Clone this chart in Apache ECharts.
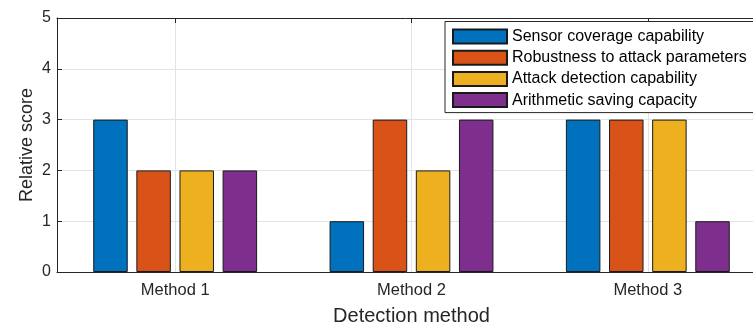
<!DOCTYPE html>
<html><head><meta charset="utf-8">
<script src="https://cdn.jsdelivr.net/npm/echarts@6/dist/echarts.min.js"></script>
<style>html,body{margin:0;padding:0;background:#fff}#c{width:753px;height:323px}</style>
</head><body><div id="c"></div>
<script>
const categories = ['Method 1', 'Method 2', 'Method 3'];
const seriesNames = ['Sensor coverage capability', 'Robustness to attack parameters', 'Attack detection capability', 'Arithmetic saving capacity'];
const sensorCoverage = [3, 1, 3];
const robustness = [2, 3, 3];
const attackDetection = [2, 2, 3];
const arithmeticSaving = [2, 3, 1];
const yTicks = [0, 1, 2, 3, 4, 5];
const colors = ['#0072BD', '#D95319', '#EDB120', '#7E2F8E'];
const values = [sensorCoverage, robustness, attackDetection, arithmeticSaving];

const font = '"Liberation Sans", Arial, Helvetica, sans-serif';
const chart = echarts.init(document.getElementById('c'), null, {renderer: 'canvas'});
chart.setOption({
  animation: false,
  backgroundColor: '#fff',
  grid: {left: 57, top: 18, width: 709, bottom: 51, containLabel: false, outerBoundsMode: 'none'},
  legend: {
    orient: 'vertical', left: 445, top: 21.5,
    icon: 'rect',
    itemWidth: 54, itemHeight: 14, itemGap: 5.2,
    padding: [7, 20, 4.5, 7],
    backgroundColor: '#fff', borderColor: '#262626', borderWidth: 1,
    textStyle: {fontFamily: font, fontSize: 16, color: '#000'},
    data: seriesNames
  },
  xAxis: [{
    type: 'category', data: categories, position: 'bottom',
    name: 'Detection method', nameLocation: 'middle', nameGap: 34,
    nameMoveOverlap: false,
    nameTextStyle: {fontFamily: font, fontSize: 20, color: '#262626'},
    axisLine: {lineStyle: {color: '#262626', width: 1}},
    axisTick: {inside: true, alignWithLabel: true, length: 5, lineStyle: {color: '#262626'}},
    axisLabel: {fontFamily: font, fontSize: 16.5, color: '#262626', margin: 9.5},
    splitLine: {show: true, alignWithLabel: true, lineStyle: {color: '#e3e3e3', width: 1}}
  }, {
    type: 'category', data: categories, position: 'top',
    axisLine: {show: true, lineStyle: {color: '#262626', width: 1}},
    axisTick: {show: true, inside: true, alignWithLabel: true, length: 5, lineStyle: {color: '#262626'}},
    axisLabel: {show: false}, splitLine: {show: false}
  }],
  yAxis: {
    type: 'value', min: 0, max: 5, interval: 1,
    name: 'Relative score', nameLocation: 'middle', nameGap: 21,
    nameMoveOverlap: false,
    nameTextStyle: {fontFamily: font, fontSize: 18, color: '#262626'},
    axisLine: {show: true, lineStyle: {color: '#262626', width: 1}},
    axisTick: {show: true, inside: true, length: 5, lineStyle: {color: '#262626'}},
    axisLabel: {fontFamily: font, fontSize: 16, color: '#262626', margin: 6,
      formatter: v => yTicks.includes(v) ? String(v) : ''},
    splitLine: {show: true, lineStyle: {color: '#e3e3e3', width: 1}}
  },
  series: seriesNames.map((n, i) => ({
    name: n, type: 'bar', data: values[i],
    barWidth: 34.5, barGap: '25%',
    itemStyle: {color: colors[i], borderColor: '#1a1a1a', borderWidth: 1},
    emphasis: {disabled: true}
  }))
});
</script></body></html>
